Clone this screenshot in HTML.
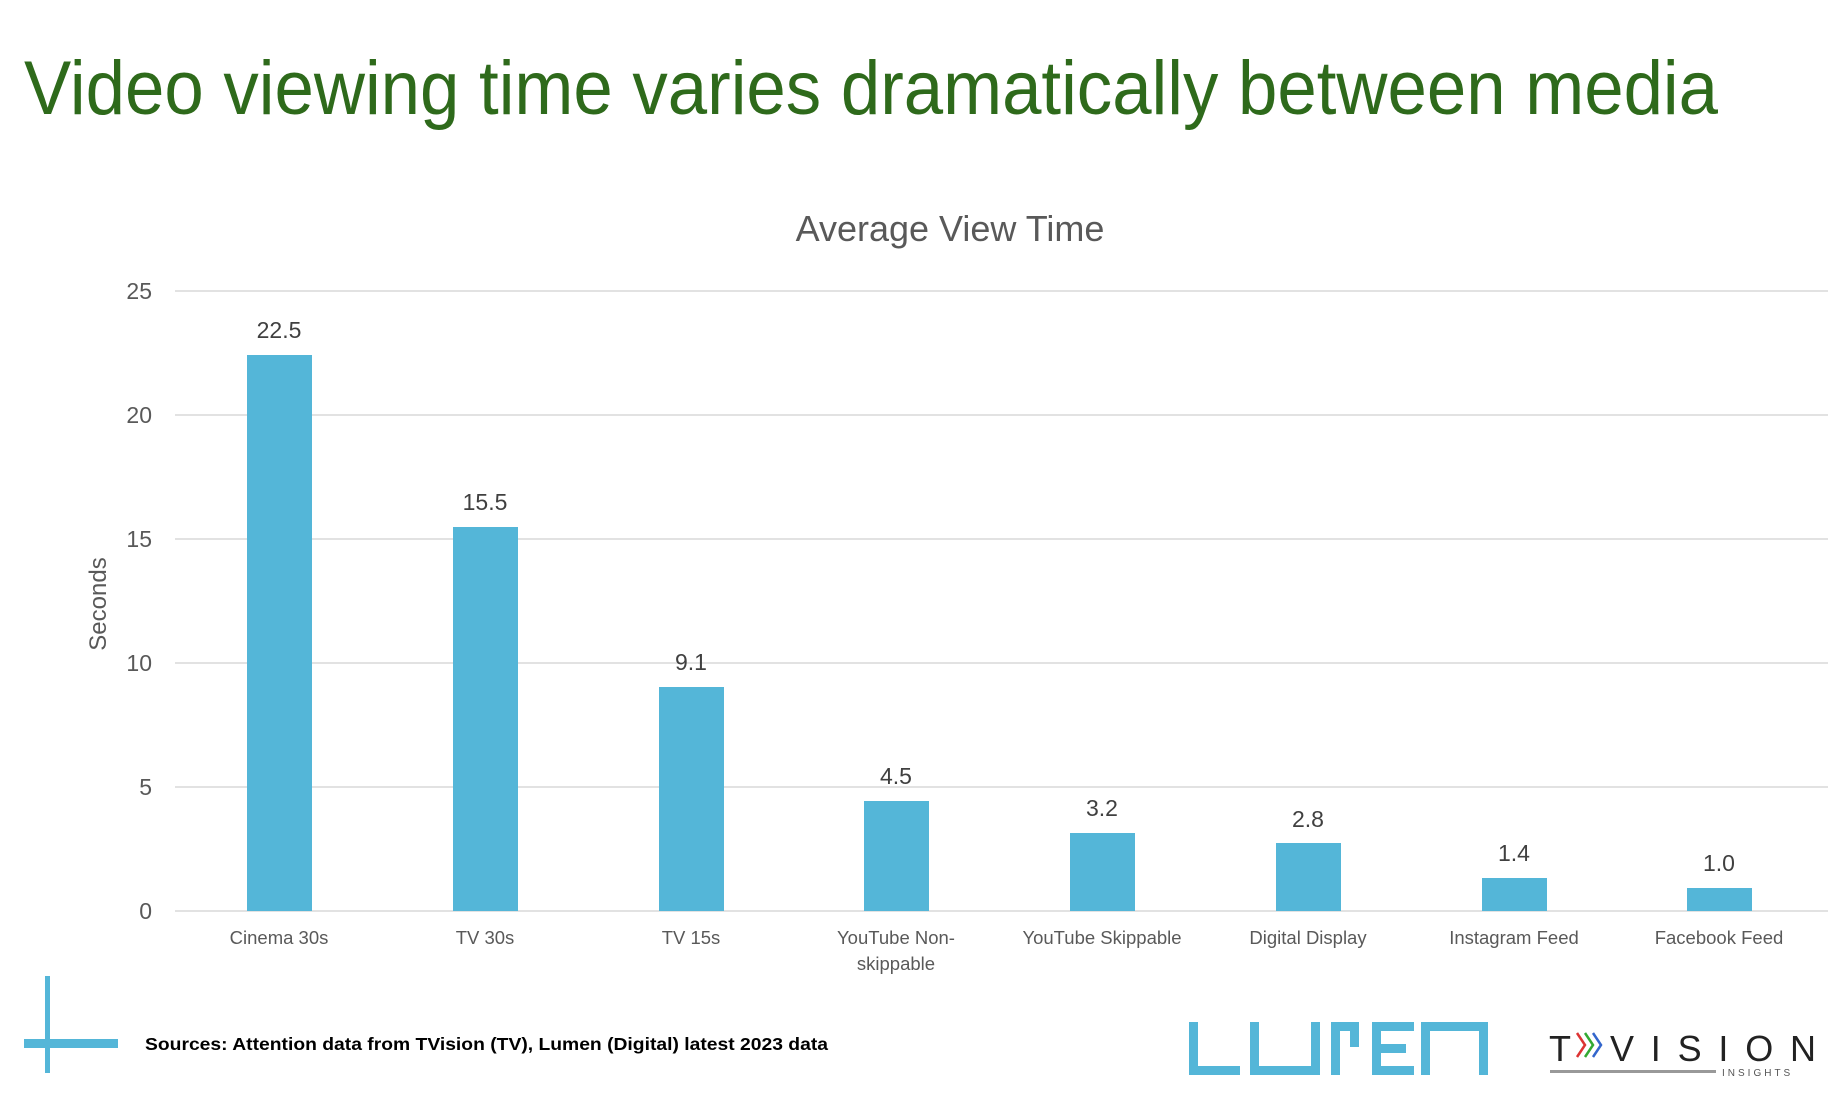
<!DOCTYPE html>
<html><head><meta charset="utf-8"><style>
html,body{margin:0;padding:0;background:#fff;}
svg{display:block;}
</style></head><body>
<svg width="1844" height="1100" viewBox="0 0 1844 1100" xmlns="http://www.w3.org/2000/svg" font-family="Liberation Sans, Arial, sans-serif">
<text x="24" y="114" font-size="76" fill="#2e6a1b" textLength="1694" lengthAdjust="spacingAndGlyphs">Video viewing time varies dramatically between media</text>
<text x="950" y="241" font-size="36" fill="#595959" text-anchor="middle">Average View Time</text>
<g stroke="#d9d9d9" stroke-width="1.5">
<line x1="175" y1="291" x2="1828" y2="291"/>
<line x1="175" y1="415" x2="1828" y2="415"/>
<line x1="175" y1="539" x2="1828" y2="539"/>
<line x1="175" y1="663" x2="1828" y2="663"/>
<line x1="175" y1="787" x2="1828" y2="787"/>
<line x1="175" y1="911" x2="1828" y2="911"/>
</g>
<g font-size="23" fill="#595959" text-anchor="end">
<text x="152" y="299">25</text><text x="152" y="423">20</text><text x="152" y="547">15</text>
<text x="152" y="671">10</text><text x="152" y="795">5</text><text x="152" y="919">0</text>
</g>
<text transform="translate(106,604) rotate(-90)" font-size="24" fill="#595959" text-anchor="middle">Seconds</text>
<g fill="#54b6d8">
<rect x="247" y="355" width="65" height="556"/>
<rect x="453" y="527" width="65" height="384"/>
<rect x="659" y="687" width="65" height="224"/>
<rect x="864" y="801" width="65" height="110"/>
<rect x="1070" y="833" width="65" height="78"/>
<rect x="1276" y="843" width="65" height="68"/>
<rect x="1482" y="878" width="65" height="33"/>
<rect x="1687" y="888" width="65" height="23"/>
</g>
<g font-size="23" fill="#404040" text-anchor="middle">
<text x="279" y="338">22.5</text><text x="485" y="510">15.5</text><text x="691" y="670">9.1</text>
<text x="896" y="784">4.5</text><text x="1102" y="816">3.2</text><text x="1308" y="827">2.8</text>
<text x="1514" y="861">1.4</text><text x="1719" y="871">1.0</text>
</g>
<g font-size="18.5" fill="#595959" text-anchor="middle">
<text x="279" y="944">Cinema 30s</text><text x="485" y="944">TV 30s</text><text x="691" y="944">TV 15s</text>
<text x="896" y="944">YouTube Non-</text><text x="896" y="970">skippable</text>
<text x="1102" y="944">YouTube Skippable</text><text x="1308" y="944">Digital Display</text>
<text x="1514" y="944">Instagram Feed</text><text x="1719" y="944">Facebook Feed</text>
</g>
<rect x="45" y="976" width="5" height="97" fill="#54b6d8"/>
<rect x="24" y="1039" width="94" height="9" fill="#54b6d8"/>
<text x="145" y="1050" font-size="17.5" font-weight="bold" fill="#000" textLength="683" lengthAdjust="spacingAndGlyphs">Sources: Attention data from TVision (TV), Lumen (Digital) latest 2023 data</text>
<g fill="#54b6d8">
<rect x="1189" y="1022" width="9" height="53"/><rect x="1189" y="1066" width="51" height="9"/>
<rect x="1250" y="1022" width="9" height="53"/><rect x="1250" y="1066" width="70" height="9"/><rect x="1311" y="1022" width="9" height="53"/>
<rect x="1331" y="1022" width="9" height="53"/><rect x="1331" y="1022" width="28" height="9"/><rect x="1350" y="1022" width="9" height="25"/>
<rect x="1372" y="1022" width="42" height="9"/><rect x="1372" y="1044" width="34" height="9"/><rect x="1372" y="1066" width="42" height="9"/><rect x="1372" y="1022" width="9" height="53"/>
<rect x="1421" y="1022" width="67" height="9"/><rect x="1421" y="1022" width="9" height="53"/><rect x="1479" y="1022" width="9" height="53"/>
</g>
<text x="1549" y="1061" font-size="36" fill="#222" font-weight="normal">T</text>
<text x="1610" y="1061" font-size="36" fill="#222" textLength="206" lengthAdjust="spacing">VISION</text>
<path d="M1577 1033 l8 12 l-8 12" stroke="#d33" stroke-width="2.5" fill="none"/>
<path d="M1585 1033 l8 12 l-8 12" stroke="#3a3" stroke-width="2.5" fill="none"/>
<path d="M1593 1033 l8 12 l-8 12" stroke="#36c" stroke-width="2.5" fill="none"/>
<rect x="1550" y="1070" width="166" height="3" fill="#999"/>
<text x="1722" y="1076" font-size="10" fill="#555" letter-spacing="3">INSIGHTS</text>
</svg>
</body></html>
